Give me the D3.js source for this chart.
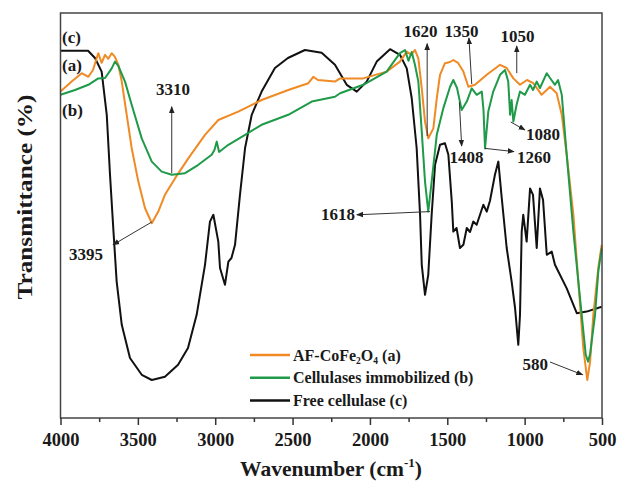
<!DOCTYPE html>
<html>
<head>
<meta charset="utf-8">
<script src="https://cdn.jsdelivr.net/npm/d3@7"></script>
<style>
  body { margin: 0; background: #fff; }
  text { font-family: "Liberation Serif", "Times New Roman", serif; font-weight: bold; fill: #1a1a1a; }
</style>
</head>
<body>
<svg width="617" height="485"></svg>
<script>
// wavenumber (cm-1), transmittance (arb. %)
var seriesA = [ // AF-CoFe2O4 (a)
  [4000,81.6],[3928,84.1],[3863,86.2],[3820,85.3],[3790,87],[3756,91.2],[3734,88.8],[3712,90.8],
  [3691,89.8],[3669,91.2],[3648,90.3],[3626,88.3],[3604,84.1],[3572,75.8],[3540,67.5],[3497,59.1],
  [3454,52.5],[3410,48.7],[3368,51.6],[3325,55.8],[3260,59.9],[3174,64.9],[3066,70.8],[2980,74.5],
  [2851,76.6],[2700,79.5],[2528,82],[2398,83.7],[2366,85.3],[2336,84.5],[2226,84.1],[2193,84.9],
  [2043,84.9],[1892,86.6],[1806,89.1],[1762,91.6],[1734,90.8],[1709,92],[1687,89.9],[1665,82.4],
  [1644,74.1],[1623,69.9],[1590,72.4],[1568,79.9],[1547,85.8],[1515,88.7],[1482,89],[1461,89.5],
  [1431,88.8],[1396,86.6],[1364,82.8],[1321,83.3],[1245,85.8],[1159,88.3],[1116,87.5],[1073,84.9],
  [1030,83.3],[985,84.5],[944,83.7],[890,80.8],[836,82.8],[793,81.2],[760,75.8],[728,65.8],
  [685,50.8],[653,34.1],[621,17.5],[595,9.5],[577,14.1],[556,25.8],[524,37.5],[502,43.3]
];
var seriesB = [ // Cellulases immobilized (b)
  [4000,80.8],[3906,82],[3820,83.3],[3756,84.9],[3712,85],[3669,87.4],[3648,89.1],[3626,88],
  [3583,84.1],[3540,78.3],[3475,69.9],[3410,64.1],[3346,61.6],[3281,60.8],[3195,61.2],[3109,63.3],
  [3023,65.8],[3005,67],[2990,69.1],[2975,66.5],[2915,68.3],[2807,70.8],[2700,73.3],[2528,75.8],
  [2376,79.1],[2226,80.3],[2193,81.2],[2043,83.3],[1892,86.6],[1806,91.2],[1773,92],[1751,89.3],
  [1730,91.5],[1709,88.3],[1687,84.1],[1665,71.6],[1644,59.1],[1623,51.6],[1601,59.1],[1568,70.8],
  [1526,77.4],[1482,82.8],[1461,84.5],[1437,82.5],[1407,77],[1374,79.1],[1342,82.4],[1310,80.8],
  [1277,81.6],[1266,77],[1256,67.4],[1235,76.6],[1203,81.6],[1159,85.8],[1127,87],[1106,84.1],
  [1094,75.8],[1084,79.5],[1073,74.1],[1052,78.3],[1030,81.6],[998,80.8],[965,83.3],[946,82],
  [922,84.1],[901,82.5],[857,86.2],[836,85],[804,83.3],[784,84.5],[760,80.8],[728,65.8],
  [685,46.6],[642,29.9],[605,15.8],[590,14.1],[577,16],[545,25.8],[524,36.6],[502,42.4]
];
var seriesC = [ // Free cellulase (c)
  [4000,91.8],[3822,91.8],[3777,90],[3734,86.6],[3701,75.8],[3680,60.8],[3659,47.5],[3637,34.1],
  [3604,23.3],[3551,15],[3475,10.8],[3410,9.5],[3325,10.3],[3240,13.3],[3176,17.5],[3120,25.8],
  [3066,38.3],[3034,49.1],[3012,50.8],[2980,44.1],[2969,37.5],[2937,33.3],[2915,39.1],[2895,40],
  [2872,43.3],[2840,55.8],[2807,67.5],[2764,75.8],[2700,81.6],[2614,87.5],[2530,90],[2420,92],
  [2312,91.3],[2226,88.3],[2150,83.3],[2085,81.6],[2021,84.1],[1956,89.1],[1870,92.2],[1806,90.8],
  [1762,87.4],[1730,80],[1698,67.5],[1676,50.8],[1665,38.3],[1644,30.8],[1623,35.8],[1601,50.8],
  [1579,63.3],[1547,68.3],[1515,68.7],[1493,65.8],[1471,54.1],[1461,46.6],[1440,47.5],[1418,42.5],
  [1396,43.3],[1374,47.5],[1353,46.5],[1332,49.1],[1310,48.3],[1267,53.3],[1245,51.6],[1224,54.3],
  [1192,60.8],[1170,64.1],[1148,55],[1116,42.5],[1084,34.1],[1062,27.5],[1041,18.3],[1030,25.8],
  [1019,46.6],[1009,50.8],[987,44.1],[965,57.4],[946,55.8],[922,42.5],[901,57.4],[881,54.5],
  [857,40.8],[825,41.6],[804,38.3],[728,32.4],[663,26.2],[599,26.6],[502,27.8]
];

var majorTicks = [4000, 3500, 3000, 2500, 2000, 1500, 1000, 500];
var minorTicks = [3750, 3250, 2750, 2250, 1750, 1250, 750];

var legendNames = ['AF-CoFe2O4 (a)', 'Cellulases immobilized  (b)', 'Free cellulase (c)'];
var colors = ['#f08a24', '#1f9a48', '#111111'];

// [label, fromWn, fromT, toWn, toT, textWn, textT, anchor]
var peaks = [
  ['3310', 3281, 61.2, 3281, 77.8, 3273, 80.8, 'middle'],
  ['3395', 3410, 49, 3661, 43.3, 3835, 39.5, 'middle'],
  ['1620', 1630, 70.5, 1630, 93.6, 1673, 95.3, 'middle'],
  ['1350', 1342, 83.5, 1360, 95, 1408, 95.3, 'middle'],
  ['1050', 1051, 86.2, 1051, 93, 1046, 94, 'middle'],
  ['1080', 1090, 74, 998, 72, 991, 69.5, 'start'],
  ['1408', 1422, 79, 1407, 68, 1376, 63.8, 'middle'],
  ['1260', 1256, 67.4, 1069, 66.6, 1049, 63.8, 'start'],
  ['1618', 1612, 51.6, 2085, 50.8, 2097, 49.5, 'end'],
  ['580', 836, 14, 625, 10.8, 849, 12, 'end']
];
var curveTags = [['(c)', 93.7], ['(a)', 86.7], ['(b)', 75.5]];

var svg = d3.select('svg');
var pLeft = 60.5, pRight = 602, pTop = 13, pBottom = 418;

var x = d3.scaleLinear().domain([4000, 500]).range([pLeft, pRight]);
var y = d3.scaleLinear().domain([0, 101.25]).range([pBottom, pTop]);

svg.append('defs').append('marker')
  .attr('id', 'ah')
  .attr('viewBox', '0 0 10 10')
  .attr('refX', 9).attr('refY', 5)
  .attr('markerWidth', 7).attr('markerHeight', 7)
  .attr('markerUnits', 'userSpaceOnUse')
  .attr('orient', 'auto')
  .append('path')
  .attr('d', 'M0,1 L10,5 L0,9 Z')
  .attr('fill', '#222');

var line = d3.line().x(d => x(d[0])).y(d => y(d[1]));

[seriesC, seriesA, seriesB].forEach(function (s, i) {
  var c = [colors[2], colors[0], colors[1]][i];
  svg.append('path')
    .datum(s)
    .attr('d', line)
    .attr('fill', 'none')
    .attr('stroke', c)
    .attr('stroke-width', 2)
    .attr('stroke-linejoin', 'round');
});

// frame
svg.append('rect')
  .attr('x', pLeft).attr('y', pTop)
  .attr('width', pRight - pLeft).attr('height', pBottom - pTop)
  .attr('fill', 'none')
  .attr('stroke', '#444')
  .attr('stroke-width', 1.5);

var ax = svg.append('g')
  .attr('transform', `translate(0,${pBottom})`)
  .call(d3.axisBottom(x).tickValues(majorTicks).tickSize(7).tickSizeOuter(0).tickPadding(8).tickFormat(d3.format('d')));
ax.select('.domain').remove();
ax.selectAll('line').attr('stroke', '#333').attr('stroke-width', 1.5);
ax.selectAll('text')
  .attr('font-size', 18.5)
  .attr('fill', '#1a1a1a')
  .style('font-family', '"Liberation Serif", serif')
  .style('font-weight', 'bold');

var mx = svg.append('g')
  .attr('transform', `translate(0,${pBottom})`)
  .call(d3.axisBottom(x).tickValues(minorTicks).tickSize(4).tickSizeOuter(0).tickFormat(''));
mx.select('.domain').remove();
mx.selectAll('line').attr('stroke', '#333').attr('stroke-width', 1.5);

// axis titles
var xt = svg.append('text')
  .attr('x', 331).attr('y', 476)
  .attr('text-anchor', 'middle')
  .attr('font-size', 21.5);
xt.append('tspan').text('Wavenumber (cm');
xt.append('tspan').attr('font-size', 13).attr('dy', -9).text('-1');
xt.append('tspan').attr('dy', 9).text(')');

svg.append('text')
  .attr('transform', 'translate(32,197) rotate(-90)')
  .attr('text-anchor', 'middle')
  .attr('font-size', 22)
  .attr('textLength', 205)
  .attr('lengthAdjust', 'spacingAndGlyphs')
  .text('Transmittance (%)');

// peak annotations
peaks.forEach(function (p) {
  svg.append('line')
    .attr('x1', x(p[1])).attr('y1', y(p[2]))
    .attr('x2', x(p[3])).attr('y2', y(p[4]))
    .attr('stroke', '#333')
    .attr('stroke-width', 1)
    .attr('marker-end', 'url(#ah)');
  svg.append('text')
    .attr('x', x(p[5])).attr('y', y(p[6]))
    .attr('text-anchor', p[7])
    .attr('font-size', 17)
    .text(p[0]);
});

curveTags.forEach(function (t) {
  svg.append('text')
    .attr('x', x(3990)).attr('y', y(t[1]))
    .attr('font-size', 17)
    .text(t[0]);
});

// legend
var lg = svg.append('g').attr('transform', 'translate(250,355)');
legendNames.forEach(function (n, i) {
  var row = lg.append('g').attr('transform', `translate(0,${i * 22.7})`);
  row.append('line')
    .attr('x1', 0).attr('x2', 40)
    .attr('stroke', colors[i]).attr('stroke-width', 2.5);
  var t = row.append('text').attr('x', 43).attr('y', 5.5).attr('font-size', 16);
  if (i === 0) {
    t.append('tspan').text('AF-CoFe');
    t.append('tspan').attr('font-size', 9.5).attr('dy', 3).text('2');
    t.append('tspan').attr('dy', -3).text('O');
    t.append('tspan').attr('font-size', 9.5).attr('dy', 3).text('4');
    t.append('tspan').attr('dy', -3).text(' (a)');
  } else {
    t.text(n);
  }
});
</script>
</body>
</html>
